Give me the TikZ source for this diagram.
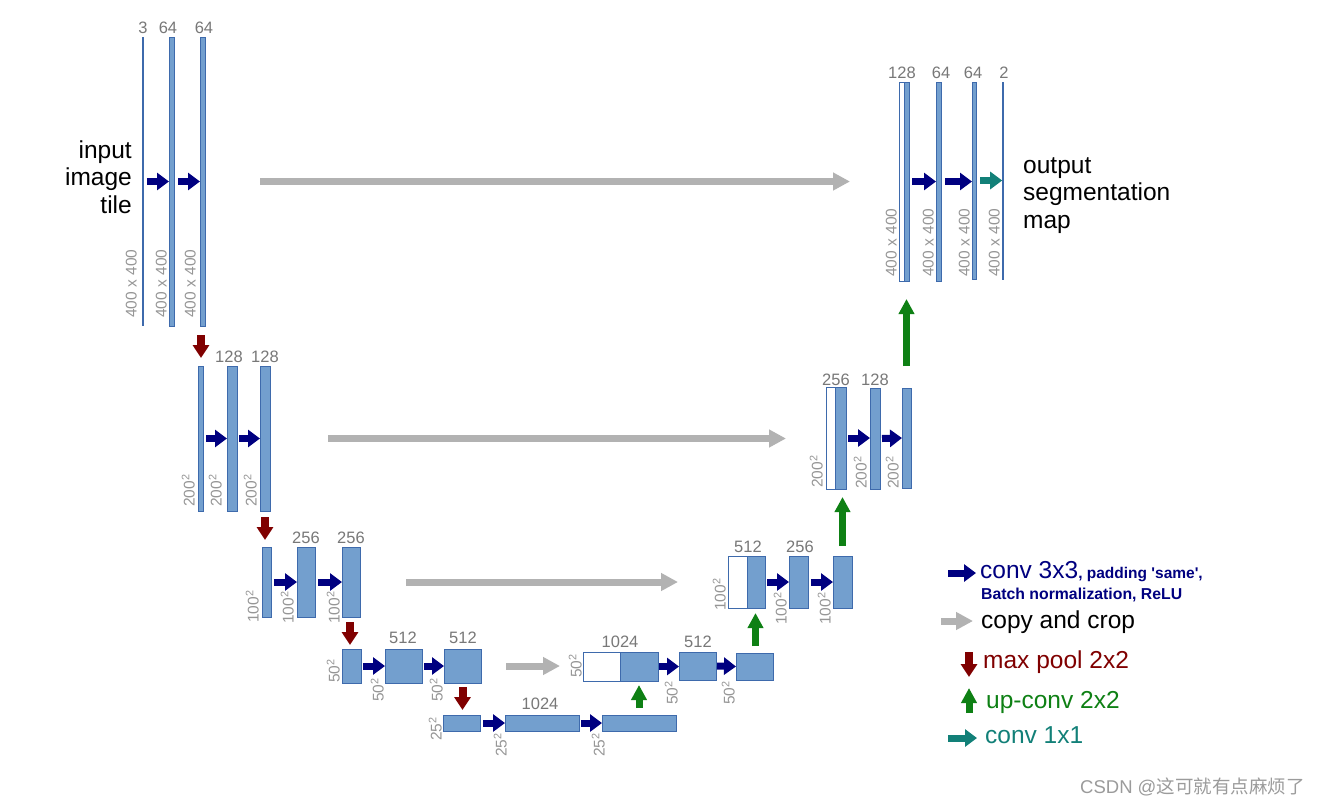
\documentclass[tikz,border=0pt]{standalone}
\usepackage{fontspec}
\setmainfont{Liberation Sans}
\newfontfamily\cjk{Noto Sans CJK SC}
\usetikzlibrary{arrows.meta,calc}
\definecolor{barfill}{RGB}{115,159,206}
\definecolor{barline}{RGB}{62,106,172}
\definecolor{cnavy}{RGB}{0,0,128}
\definecolor{cgray}{RGB}{178,178,178}
\definecolor{cpool}{RGB}{128,0,0}
\definecolor{cup}{RGB}{14,128,20}
\definecolor{cteal}{RGB}{18,128,120}
\definecolor{labgray}{RGB}{120,120,120}
\definecolor{dimgray}{RGB}{150,150,150}
\definecolor{wmgray}{RGB}{155,155,155}
\newcommand\UBox[6]{\node[#1, minimum width={(#4)-(#2)}, minimum height={(#5)-(#3)}] (#6) at ({((#2)+(#4))/2},{((#3)+(#5))/2}) {};}
\tikzset{
  barbox/.style={draw=barline, fill=barfill, line width=0.9pt, inner sep=0, outer sep=0},
  whitebox/.style={draw=barline, fill=white, line width=0.9pt, inner sep=0, outer sep=0},
  thinbar/.style={fill=barline, draw=none, inner sep=0, outer sep=0},
  toplab/.style={anchor=base, text=labgray, font=\fontsize{16.5}{18}\selectfont, inner sep=0},
  dimlab/.style={rotate=90, anchor=south west, text=dimgray, font=\fontsize{15.5}{17}\selectfont, inner sep=0},
  bigtext/.style={inner sep=0, font=\fontsize{24.5}{28}\selectfont},
  conv/.style={draw=cnavy, line width=7pt, -{Triangle[length=12pt,width=17pt]}},
  conva/.style={draw=cteal, line width=7pt, -{Triangle[length=12pt,width=17pt]}},
  copyarrow/.style={draw=cgray, line width=7pt, -{Triangle[length=17pt,width=17pt]}},
  pool/.style={draw=cpool, line width=8pt, -{Triangle[length=13pt,width=16pt]}},
  upconv/.style={draw=cup, line width=7pt, -{Triangle[length=15pt,width=15pt]}},
}
\begin{document}
\begin{tikzpicture}[x=1pt,y=-1pt]
\useasboundingbox (0,0) rectangle (1320,806);
\fill[white] (0,0) rectangle (1320,806);

% ---------- level 1 ----------
\UBox{thinbar}{142.2}{37}{143.8}{326}{b11}
\UBox{barbox}{169}{37}{174}{326}{b12}
\UBox{barbox}{200}{37}{205}{326}{b13}
\node[toplab] (t11) at (143,33) {3};
\node[toplab] (t12) at (168,33) {64};
\node[toplab] (t13) at (204,33) {64};
\node[dimlab] (d11) at (137,318) {400 x 400};
\node[dimlab] (d12) at (167,318) {400 x 400};
\node[dimlab] (d13) at (196,318) {400 x 400};
\node[bigtext, anchor=base east] (in1) at (132,158) {input};
\node[bigtext, anchor=base east] (in2) at (132,185.5) {image};
\node[bigtext, anchor=base east] (in3) at (132,213) {tile};

% ---------- level 2 ----------
\UBox{barbox}{198}{366}{203}{511}{b21}
\UBox{barbox}{227}{366}{237}{511}{b22}
\UBox{barbox}{260}{366}{270}{511}{b23}
\node[toplab] (t22) at (229,362) {128};
\node[toplab] (t23) at (265,362) {128};
\node[dimlab] (d21) at (195,507) {200\textsuperscript{2}};
\node[dimlab] (d22) at (222,507) {200\textsuperscript{2}};
\node[dimlab] (d23) at (257,507) {200\textsuperscript{2}};

% ---------- level 3 ----------
\UBox{barbox}{262}{547}{271}{617}{b31}
\UBox{barbox}{297}{547}{315}{617}{b32}
\UBox{barbox}{342}{547}{360}{617}{b33}
\node[toplab] (t32) at (306,543) {256};
\node[toplab] (t33) at (351,543) {256};
\node[dimlab] (d31) at (259,623) {100\textsuperscript{2}};
\node[dimlab] (d32) at (294,624) {100\textsuperscript{2}};
\node[dimlab] (d33) at (340,624) {100\textsuperscript{2}};

% ---------- level 4 ----------
\UBox{barbox}{342}{649}{361}{683}{b41}
\UBox{barbox}{385}{649}{422}{683}{b42}
\UBox{barbox}{444}{649}{481}{683}{b43}
\node[toplab] (t42) at (403,643) {512};
\node[toplab] (t43) at (463,643) {512};
\node[dimlab] (d41) at (340,683) {50\textsuperscript{2}};
\node[dimlab] (d42) at (384,702) {50\textsuperscript{2}};
\node[dimlab] (d43) at (443,702) {50\textsuperscript{2}};

% ---------- level 5 ----------
\UBox{barbox}{443}{715}{480}{731}{b51}
\UBox{barbox}{505}{715}{579}{731}{b52}
\UBox{barbox}{602}{715}{676}{731}{b53}
\node[toplab] (t52) at (540,709) {1024};
\node[dimlab] (d51) at (442,741) {25\textsuperscript{2}};
\node[dimlab] (d52) at (507,757) {25\textsuperscript{2}};
\node[dimlab] (d53) at (605,757) {25\textsuperscript{2}};

% ---------- up level 4 ----------
\UBox{whitebox}{583}{652}{620}{681}{u41w}
\UBox{barbox}{620}{652}{658}{681}{u41}
\UBox{barbox}{679}{652}{716}{680}{u42}
\UBox{barbox}{736}{653}{773}{680}{u43}
\node[toplab] (s41) at (620,647) {1024};
\node[toplab] (s42) at (698,647) {512};
\node[dimlab] (e41) at (582,678) {50\textsuperscript{2}};
\node[dimlab] (e42) at (678,705) {50\textsuperscript{2}};
\node[dimlab] (e43) at (735,705) {50\textsuperscript{2}};

% ---------- up level 3 ----------
\UBox{whitebox}{728}{556}{747}{608}{u31w}
\UBox{barbox}{747}{556}{765}{608}{u31}
\UBox{barbox}{789}{556}{808}{608}{u32}
\UBox{barbox}{833}{556}{852}{608}{u33}
\node[toplab] (s31) at (748,552) {512};
\node[toplab] (s32) at (800,552) {256};
\node[dimlab] (e31) at (726,611) {100\textsuperscript{2}};
\node[dimlab] (e32) at (787,625) {100\textsuperscript{2}};
\node[dimlab] (e33) at (831,625) {100\textsuperscript{2}};

% ---------- up level 2 ----------
\UBox{whitebox}{826}{387}{835}{489}{u21w}
\UBox{barbox}{835}{387}{846}{489}{u21}
\UBox{barbox}{870}{388}{880}{489}{u22}
\UBox{barbox}{902}{388}{911}{488}{u23}
\node[toplab] (s21) at (836,385) {256};
\node[toplab] (s22) at (875,385) {128};
\node[dimlab] (e21) at (823,488) {200\textsuperscript{2}};
\node[dimlab] (e22) at (867,489) {200\textsuperscript{2}};
\node[dimlab] (e23) at (899,489) {200\textsuperscript{2}};

% ---------- up level 1 ----------
\UBox{whitebox}{899}{82}{904}{281}{u11w}
\UBox{barbox}{904}{82}{909}{281}{u11}
\UBox{barbox}{936}{82}{941}{281}{u12}
\UBox{barbox}{972}{82}{976}{279}{u13}
\UBox{thinbar}{1002.2}{82}{1003.8}{280}{u14}
\node[toplab] (s11) at (902,78) {128};
\node[toplab] (s12) at (941,78) {64};
\node[toplab] (s13) at (973,78) {64};
\node[toplab] (s14) at (1004,78) {2};
\node[dimlab] (e11) at (897,277) {400 x 400};
\node[dimlab] (e12) at (934,277) {400 x 400};
\node[dimlab] (e13) at (970,277) {400 x 400};
\node[dimlab] (e14) at (1000,277) {400 x 400};
\node[bigtext, anchor=base west] (out1) at (1023,173) {output};
\node[bigtext, anchor=base west] (out2) at (1023,200.5) {segmentation};
\node[bigtext, anchor=base west] (out3) at (1023,228) {map};

% ---------- conv arrows ----------
\draw[conv] ($(b11.east)+(3,0)$) -- (b12.west);
\draw[conv] ($(b12.east)+(4,0)$) -- (b13.west);
\draw[conv] ($(b21.east)+(3,0)$) -- (b22.west);
\draw[conv] ($(b22.east)+(2,0)$) -- (b23.west);
\draw[conv] ($(b31.east)+(3,0)$) -- (b32.west);
\draw[conv] ($(b32.east)+(3,0)$) -- (b33.west);
\draw[conv] ($(b41.east)+(2,0)$) -- (b42.west);
\draw[conv] ($(b42.east)+(2,0)$) -- (b43.west);
\draw[conv] ($(b51.east)+(3,0)$) -- (b52.west);
\draw[conv] ($(b52.east)+(2,0)$) -- (b53.west);
\draw[conv] ($(u41.east)+(1,0)$) -- (u42.west |- u41.east);
\draw[conv] ($(u42.east)+(1,0)$) -- (u43.west);
\draw[conv] ($(u31.east)+(2,0)$) -- (u32.west);
\draw[conv] ($(u32.east)+(3,0)$) -- (u33.west);
\draw[conv] ($(u21.east)+(2,0)$) -- (u22.west |- u21.east);
\draw[conv] ($(u22.east)+(2,0)$) -- (u23.west);
\draw[conv] ($(u11.east)+(3,0)$) -- (u12.west |- u11.east);
\draw[conv] ($(u12.east)+(4,0)$) -- (u13.west |- u12.east);
\draw[conva] ($(u13.east)+(4,0)$) -- (u14.west |- u13.east);

% ---------- copy and crop ----------
\draw[copyarrow] ($(b13.east)+(55,0)$) -- ($(b13.east -| u11w.west)+(-49,0)$);
\draw[copyarrow] ($(b23.east)+(58,0)$) -- ($(b23.east -| u21w.west)+(-40,0)$);
\draw[copyarrow] ($(b33.east)+(46,0)$) -- ($(b33.east -| u31w.west)+(-50,0)$);
\draw[copyarrow] ($(b43.east)+(25,0)$) -- ($(b43.east -| u41w.west)+(-23,0)$);

% ---------- max pool ----------
\draw[pool] ($(b13.south)+(-1.5,9)$) -- ($(b13.south |- b21.north)+(-1.5,-8)$);
\draw[pool] ($(b23.south)+(0,6)$) -- ($(b23.south |- b31.north)+(0,-7)$);
\draw[pool] ($(b33.south)+(-1,5)$) -- ($(b33.south |- b41.north)+(-1,-4)$);
\draw[pool] ($(b43.south)+(0,4)$) -- ($(b43.south |- b51.north)+(0,-5)$);

% ---------- up-conv ----------
\draw[upconv] ($(b53.north)+(0,-7)$) -- ($(b53.north |- u41.south)+(0,4)$);
\draw[upconv] ($(u43.north)+(1,-7)$) -- ($(u43.north |- u31.south)+(1,5)$);
\draw[upconv] ($(u33.north)+(0,-10)$) -- ($(u33.north |- u21.south)+(0,8)$);
\draw[upconv] ($(u23.north)+(0,-22)$) -- ($(u23.north |- u11.south)+(0,18)$);

% ---------- legend ----------
\coordinate (lg1a) at (948,573); \coordinate (lg1b) at (976,573);
\coordinate (lg2a) at (941,621); \coordinate (lg2b) at (973,621);
\coordinate (lg3a) at (969,652); \coordinate (lg3b) at (969,677);
\coordinate (lg4a) at (969,713); \coordinate (lg4b) at (969,688);
\coordinate (lg5a) at (948,738); \coordinate (lg5b) at (977,738);
\draw[conv] (lg1a) -- (lg1b);
\draw[copyarrow] (lg2a) -- (lg2b);
\draw[pool] (lg3a) -- (lg3b);
\draw[upconv] (lg4a) -- (lg4b);
\draw[conva] (lg5a) -- (lg5b);
\node[bigtext, anchor=base west, text=cnavy] (lt1) at (980,578) {conv 3x3{\fontsize{15.5}{18}\selectfont\bfseries, padding \textquotesingle same\textquotesingle,}};
\node[inner sep=0, anchor=base west, text=cnavy, font=\fontsize{15.8}{18}\selectfont\bfseries] (lt1b) at (981,599) {Batch normalization, ReLU};
\node[bigtext, anchor=base west] (lt2) at (981,628) {copy and crop};
\node[bigtext, anchor=base west, text=cpool] (lt3) at (983,668) {max pool 2x2};
\node[bigtext, anchor=base west, text=cup] (lt4) at (986,708) {up-conv 2x2};
\node[bigtext, anchor=base west, text=cteal] (lt5) at (985,743) {conv 1x1};

% ---------- watermark ----------
\node[inner sep=0, anchor=base west, text=wmgray, font=\fontsize{18.5}{20}\selectfont] (wm) at (1080,793) {CSDN @{\cjk 这可就有点麻烦了}};
\end{tikzpicture}
\end{document}
